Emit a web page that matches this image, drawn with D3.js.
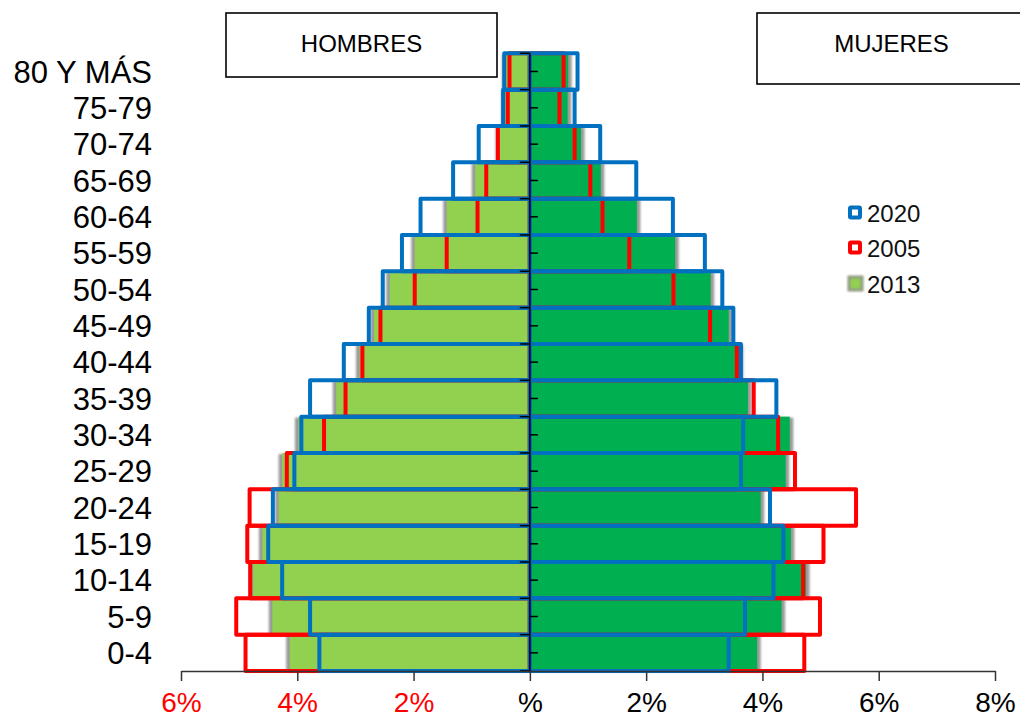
<!DOCTYPE html>
<html>
<head>
<meta charset="utf-8">
<script src="https://cdn.jsdelivr.net/npm/d3@7"></script>
<style>
  html, body { margin: 0; padding: 0; background: #fff; }
  svg { display: block; font-family: "Liberation Sans", Arial, sans-serif; }
</style>
</head>
<body>
<svg id="chart" width="1020" height="719"></svg>
<script>
// Age groups, youngest first
const ageGroups = ["0-4","5-9","10-14","15-19","20-24","25-29","30-34","35-39","40-44",
                   "45-49","50-54","55-59","60-64","65-69","70-74","75-79","80 Y MÁS"];

// Share of total population (%), men
const men2013 = [4.13,4.43,4.76,4.60,4.32,4.26,3.98,3.33,2.93,2.68,2.41,1.98,1.43,0.94,0.53,0.43,0.42];
const men2005 = [4.89,5.05,4.81,4.86,4.82,4.18,3.54,3.17,2.88,2.57,1.98,1.43,0.90,0.75,0.55,0.38,0.35];
const men2020 = [3.62,3.78,4.26,4.50,4.42,4.05,3.93,3.78,3.20,2.77,2.53,2.20,1.88,1.32,0.88,0.46,0.44];

// Share of total population (%), women
const women2013 = [3.91,4.33,4.75,4.49,3.97,4.40,4.47,3.75,3.61,3.42,3.11,2.50,1.84,1.22,0.88,0.65,0.66];
const women2005 = [4.72,4.99,4.70,5.05,5.61,4.56,4.27,3.85,3.56,3.10,2.47,1.71,1.25,1.04,0.77,0.51,0.58];
const women2020 = [3.42,3.70,4.19,4.36,4.13,3.63,3.67,4.24,3.63,3.50,3.31,3.01,2.46,1.83,1.21,0.77,0.82];

// Axis ticks (men plotted as negative values)
const tickValues = [-6,-4,-2,0,2,4,6,8];
const tickLabels = ["6%","4%","2%","%","2%","4%","6%","8%"];

const legendYears = ["2020","2005","2013"];
const titles = ["HOMBRES","MUJERES"];

const colors = {
  men: "#92D050",
  women: "#00B050",
  y2005: "#FF0000",
  y2020: "#0070C0",
  shadow: "#9a9a9a"
};

const svg = d3.select("#chart");

const x = d3.scaleLinear().domain([-6, 8]).range([181, 995]);
const y = d3.scaleBand().domain(ageGroups.slice().reverse()).range([53.3, 671]).padding(0);

const defs = svg.append("defs");
defs.append("filter").attr("id", "soft")
  .attr("x", "-20%").attr("y", "-20%").attr("width", "140%").attr("height", "140%")
  .append("feGaussianBlur").attr("stdDeviation", 1.1);

const rows = ageGroups.map((g, i) => ({
  g,
  m13: men2013[i], m05: men2005[i], m20: men2020[i],
  w13: women2013[i], w05: women2005[i], w20: women2020[i]
}));

// Horizontal span of a bar from the centre line to value v (negative = men)
function span(v) {
  const a = x(0), b = x(v);
  return { x: Math.min(a, b), w: Math.abs(b - a) };
}

const plot = svg.append("g");

// 2013: filled bars with a soft shadow on the outer end
const shadowG = plot.append("g").attr("filter", "url(#soft)");
rows.forEach(d => {
  const sm = span(-d.m13 - 0.06), sw = span(d.w13 + 0.06);
  shadowG.append("rect").attr("x", sm.x).attr("y", y(d.g) + 1).attr("width", sm.w)
    .attr("height", y.bandwidth()).attr("fill", colors.shadow);
  shadowG.append("rect").attr("x", sw.x).attr("y", y(d.g) + 1).attr("width", sw.w)
    .attr("height", y.bandwidth()).attr("fill", colors.shadow);
});

plot.append("g").selectAll("rect").data(rows).join("rect")
  .attr("x", d => span(-d.m13).x).attr("width", d => span(-d.m13).w)
  .attr("y", d => y(d.g)).attr("height", y.bandwidth())
  .attr("fill", colors.men);

plot.append("g").selectAll("rect").data(rows).join("rect")
  .attr("x", d => span(d.w13).x).attr("width", d => span(d.w13).w)
  .attr("y", d => y(d.g)).attr("height", y.bandwidth())
  .attr("fill", colors.women);

// 2005 and 2020: outlined bars
function outlines(key, color) {
  const g = plot.append("g");
  rows.forEach(d => {
    [-d["m" + key], d["w" + key]].forEach(v => {
      const s = span(v);
      g.append("rect").attr("x", s.x).attr("width", s.w)
        .attr("y", y(d.g)).attr("height", y.bandwidth())
        .attr("fill", "none").attr("stroke", color).attr("stroke-width", 4)
        .attr("stroke-linejoin", "round");
    });
  });
}
outlines("05", colors.y2005);
outlines("20", colors.y2020);

// Centre axis with ticks
const axisG = svg.append("g");
axisG.append("line").attr("x1", x(0)).attr("x2", x(0)).attr("y1", 53.3).attr("y2", 671)
  .attr("stroke", "#000").attr("stroke-width", 1.6);
const bounds = ageGroups.map(g => y(g)).concat([671]);
axisG.selectAll(".tb").data(bounds).join("line")
  .attr("x1", x(0) - 10).attr("x2", x(0)).attr("y1", d => d).attr("y2", d => d)
  .attr("stroke", "#000").attr("stroke-width", 1.5);
axisG.selectAll(".tc").data(ageGroups).join("line")
  .attr("x1", x(0)).attr("x2", x(0) + 8)
  .attr("y1", d => y(d) + y.bandwidth() / 2).attr("y2", d => y(d) + y.bandwidth() / 2)
  .attr("stroke", "#000").attr("stroke-width", 1.5);

// Age group labels
svg.append("g").selectAll("text").data(ageGroups).join("text")
  .attr("x", 152).attr("y", d => y(d) + y.bandwidth() / 2)
  .attr("dy", "0.36em").attr("text-anchor", "end")
  .attr("font-size", 31).attr("fill", "#000")
  .text(d => d);

// Bottom percentage axis
const xAxis = d3.axisBottom(x).tickValues(tickValues).tickSize(10).tickSizeOuter(0)
  .tickFormat((d, i) => tickLabels[i]);
const xg = svg.append("g").attr("transform", "translate(0,671)").call(xAxis);
xg.select(".domain").attr("stroke", "#333").attr("stroke-width", 1.5);
xg.selectAll(".tick line").attr("stroke", "#333").attr("stroke-width", 1.5);
xg.selectAll(".tick text")
  .attr("y", 41).attr("dy", 0)
  .attr("font-size", 28).attr("font-family", "Liberation Sans, Arial, sans-serif")
  .attr("fill", d => d < 0 ? "#FF0000" : "#000");

// Title boxes
const titleBoxes = [
  { t: titles[0], x: 226, y: 13, w: 271, h: 64, cx: 361.5 },
  { t: titles[1], x: 757, y: 13, w: 290, h: 71, cx: 891.5 }
];
titleBoxes.forEach(b => {
  svg.append("rect").attr("x", b.x).attr("y", b.y).attr("width", b.w).attr("height", b.h)
    .attr("fill", "#fff").attr("stroke", "#000").attr("stroke-width", 1.6);
  svg.append("text").attr("x", b.cx).attr("y", 52).attr("text-anchor", "middle")
    .attr("font-size", 24).attr("fill", "#000").text(b.t);
});

// Legend
const legend = svg.append("g");
const legendY = [213.5, 248.5, 284];
legendYears.forEach((yr, i) => {
  const cy = legendY[i];
  if (yr === "2013") {
    legend.append("rect").attr("x", 849).attr("y", cy - 7).attr("width", 13).attr("height", 13)
      .attr("fill", colors.men).attr("stroke", "#8f9a80").attr("stroke-width", 3)
      .attr("filter", "url(#soft)");
  } else {
    legend.append("rect").attr("x", 850).attr("y", cy - 6).attr("width", 10).attr("height", 10)
      .attr("fill", "#fff").attr("stroke", yr === "2020" ? colors.y2020 : colors.y2005)
      .attr("stroke-width", 4).attr("rx", 1);
  }
  legend.append("text").attr("x", 867).attr("y", cy).attr("dy", "0.36em")
    .attr("font-size", 24).attr("fill", "#111").text(yr);
});
</script>
</body>
</html>
